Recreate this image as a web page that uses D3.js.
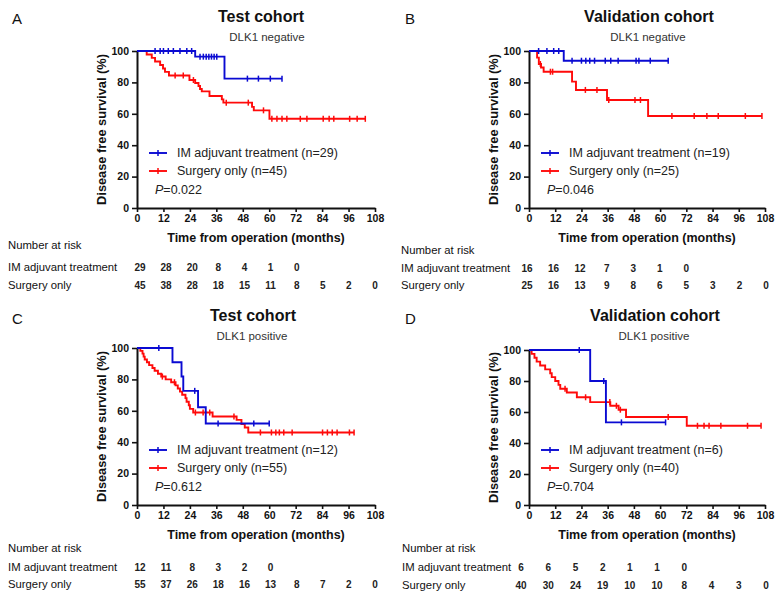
<!DOCTYPE html>
<html>
<head>
<meta charset="utf-8">
<script src="https://cdn.jsdelivr.net/npm/d3@7"></script>
<style>
  body { margin: 0; background: #fff; }
  svg { display: block; font-family: "Liberation Sans", Arial, sans-serif; }
</style>
</head>
<body>
<svg id="chart" width="784" height="600"></svg>
<script>
// Axis ticks and shared labels
var timeTicks = [0, 12, 24, 36, 48, 60, 72, 84, 96, 108];
var survTicks = [0, 20, 40, 60, 80, 100];
var panelLetters = ['A', 'B', 'C', 'D'];
var cohortTitles = ['Test cohort', 'Validation cohort', 'Test cohort', 'Validation cohort'];
var dlkTitles = ['DLK1 negative', 'DLK1 negative', 'DLK1 positive', 'DLK1 positive'];
var groupNames = ['IM adjuvant treatment', 'Surgery only'];
var imN = [29, 19, 12, 6];
var surgN = [45, 25, 55, 40];
var pValues = ['0.022', '0.046', '0.612', '0.704'];

// Kaplan-Meier steps: [month, survival % after the event], plus censored months
var imEventsA = [[26.4, 96.4], [39.7, 82.4]];
var imCensorA = [8.2, 10.5, 12, 14.2, 16.5, 19.5, 22.6, 24.8, 28.6, 30.1, 31.4, 32.6, 33.8, 35, 36.2, 50.1, 55.1, 60.5, 65.8];
var surgEventsA = [[4.4, 97.8], [6.7, 95.6], [8.2, 93.3], [10.5, 91.1], [11.8, 88.9], [12.7, 86.7], [14.5, 84.4], [23.8, 81.5], [26.4, 79.6], [27.9, 77.7], [28.6, 75.8], [29.4, 74.3], [32.9, 71.3], [38.5, 69.2], [39.2, 67.1], [52.2, 64.4], [53, 62.2], [60.1, 56.8]];
var surgCensorA = [17.3, 21, 25.6, 40.5, 50.5, 57.4, 61.2, 63.5, 65.8, 68, 74.1, 77.1, 84.5, 87.2, 89.3, 96.5, 99.9, 103.6];

var imEventsB = [[15.9, 93.8]];
var imCensorB = [4.4, 8.2, 11.3, 13.6, 19.7, 24, 26, 27.8, 30, 34.9, 37.4, 40.8, 49, 50.3, 55.5, 63.7];
var surgEventsB = [[3.7, 95.8], [4.5, 91.7], [5.5, 89.5], [6.7, 86.8], [19.7, 80.5], [21.5, 75.2], [35.7, 68.8], [54.5, 58.6]];
var surgCensorB = [5.2, 9.8, 10.8, 25.8, 31.1, 36.5, 48.5, 51, 65.4, 75.6, 81.4, 86.6, 99, 106.6];

var imEventsC = [[16.1, 90.9], [20.2, 81.8], [21, 72.7], [27.7, 62.3], [31.2, 51.9]];
var imCensorC = [9.9, 26.2, 36.8, 53, 60];
var surgEventsC = [[1.5, 98.2], [2.5, 96.4], [3, 94.5], [3.5, 92.7], [4.5, 90.9], [5.5, 89.1], [7, 87.3], [8, 85.5], [9.5, 83.6], [11, 81.8], [13, 80], [15.5, 78.2], [17.5, 76.2], [18.5, 74.2], [19.5, 72.2], [20.5, 70.2], [22, 68.1], [22.5, 65.8], [23.5, 63.5], [24, 61.2], [25.5, 58.9], [34.3, 56.4], [45.2, 54.2], [47.4, 51.6], [48.9, 49.4], [50.5, 46.2]];
var surgCensorC = [11.5, 17, 26.5, 30, 33, 44, 56, 61, 63, 64.6, 66.6, 70.4, 84.2, 86.4, 88.6, 90.8, 96.4, 98.5];

var imEventsD = [[28, 80], [35.2, 53.3]];
var imCensorD = [23, 34.2, 42.3, 62.5];
var surgEventsD = [[1.2, 97.5], [2.5, 95], [3.5, 92.5], [5.1, 90], [7.4, 87.5], [9.7, 85], [10.4, 82.5], [12, 80], [13.5, 77.5], [14.3, 75], [17.3, 72.6], [21.9, 69.5], [28, 66.4], [37.2, 64], [41, 61.5], [44.4, 56.8], [72.2, 51.1]];
var surgCensorD = [16.5, 25.9, 37, 40, 41.8, 63.7, 77.1, 80.1, 82.4, 87.8, 100, 106.2];

// Number at risk at each 12-month tick
var riskImA = [29, 28, 20, 8, 4, 1, 0];
var riskSurgA = [45, 38, 28, 18, 15, 11, 8, 5, 2, 0];
var riskImB = [16, 16, 12, 7, 3, 1, 0];
var riskSurgB = [25, 16, 13, 9, 8, 6, 5, 3, 2, 0];
var riskImC = [12, 11, 8, 3, 2, 0];
var riskSurgC = [55, 37, 26, 18, 16, 13, 8, 7, 2, 0];
var riskImD = [6, 6, 5, 2, 1, 1, 0];
var riskSurgD = [40, 30, 24, 19, 10, 10, 8, 4, 3, 0];

var BLUE = '#0a0ad2';
var RED = '#ff0a0a';

// Where each panel sits on the page
var LAYOUT = [
  { x0: 137, x1: 375, top: 51, bottom: 208, titleX: 261, subX: 267, titleY: 21.5, subY: 41, letterX: 12, letterY: 24, tab0: 140, tab1: 375, rowY: [245, 267, 285], labelX: 8 },
  { x0: 529, x1: 765, top: 51, bottom: 208, titleX: 649, subX: 648, titleY: 21.5, subY: 41, letterX: 405, letterY: 24, tab0: 527, tab1: 766, rowY: [250, 268, 285], labelX: 401 },
  { x0: 137, x1: 375, top: 348, bottom: 505, titleX: 253, subX: 252, titleY: 321, subY: 340, letterX: 12, letterY: 324, tab0: 140, tab1: 375, rowY: [548, 567, 584], labelX: 8 },
  { x0: 529, x1: 765, top: 350, bottom: 505, titleX: 655, subX: 654, titleY: 321, subY: 340, letterX: 405, letterY: 324, tab0: 521, tab1: 766, rowY: [548, 567, 585], labelX: 402 }
];

var curves = [
  [{ events: imEventsA, censor: imCensorA, color: BLUE }, { events: surgEventsA, censor: surgCensorA, color: RED }],
  [{ events: imEventsB, censor: imCensorB, color: BLUE }, { events: surgEventsB, censor: surgCensorB, color: RED }],
  [{ events: imEventsC, censor: imCensorC, color: BLUE }, { events: surgEventsC, censor: surgCensorC, color: RED }],
  [{ events: imEventsD, censor: imCensorD, color: BLUE }, { events: surgEventsD, censor: surgCensorD, color: RED }]
];
var riskRows = [[riskImA, riskSurgA], [riskImB, riskSurgB], [riskImC, riskSurgC], [riskImD, riskSurgD]];

var svg = d3.select('#chart');
var byTime = d3.bisector(function (d) { return d[0]; }).right;

// survival level at month t for a list of events
function survivalAt(events, t) {
  var i = byTime(events, t);
  return i === 0 ? 100 : events[i - 1][1];
}

LAYOUT.forEach(function (L, p) {
  var g = svg.append('g');
  var x = d3.scaleLinear().domain([0, 108]).range([L.x0, L.x1]);
  var y = d3.scaleLinear().domain([0, 100]).range([L.bottom, L.top]);

  // panel letter and titles
  g.append('text').attr('x', L.letterX).attr('y', L.letterY)
    .attr('font-size', 15).attr('fill', '#111').text(panelLetters[p]);
  g.append('text').attr('x', L.titleX).attr('y', L.titleY).attr('text-anchor', 'middle')
    .attr('font-size', 16).attr('font-weight', 'bold').attr('fill', '#111').text(cohortTitles[p]);
  g.append('text').attr('x', L.subX).attr('y', L.subY).attr('text-anchor', 'middle')
    .attr('font-size', 11.5).attr('fill', '#333').text(dlkTitles[p]);

  // axes
  var xAxis = g.append('g').attr('transform', 'translate(0,' + L.bottom + ')')
    .call(d3.axisBottom(x).tickValues(timeTicks).tickSize(4).tickPadding(3).tickSizeOuter(0));
  var yAxis = g.append('g').attr('transform', 'translate(' + L.x0 + ',0)')
    .call(d3.axisLeft(y).tickValues(survTicks).tickSize(5).tickPadding(3).tickSizeOuter(0));
  [xAxis, yAxis].forEach(function (a) {
    a.select('.domain').attr('stroke', '#111').attr('stroke-width', 2);
    a.selectAll('.tick line').attr('stroke', '#111').attr('stroke-width', 1.6);
    a.selectAll('.tick text').attr('fill', '#111').attr('font-size', 10.5)
      .attr('font-weight', 'bold').attr('font-family', '"Liberation Sans", Arial, sans-serif');
  });

  g.append('text')
    .attr('transform', 'translate(' + (L.x0 - 35) + ',' + ((L.top + L.bottom) / 2) + ') rotate(-90)')
    .attr('text-anchor', 'middle').attr('dy', '0.35em')
    .attr('font-size', 12.8).attr('font-weight', 'bold').attr('fill', '#111')
    .text('Disease free survival (%)');
  g.append('text').attr('x', (L.x0 + L.x1) / 2).attr('y', L.bottom + 30).attr('dy', '0.35em')
    .attr('text-anchor', 'middle').attr('font-size', 12.5).attr('font-weight', 'bold').attr('fill', '#111')
    .text('Time from operation (months)');

  // survival curves, surgery drawn first so the treatment line sits on top
  var line = d3.line().curve(d3.curveStepAfter)
    .x(function (d) { return x(d[0]); })
    .y(function (d) { return y(d[1]); });

  curves[p].slice().reverse().forEach(function (c) {
    var last = c.events[c.events.length - 1];
    var end = Math.max(last[0], d3.max(c.censor));
    var pts = [[0, 100]].concat(c.events, [[end, last[1]]]);
    g.append('path').datum(pts).attr('d', line)
      .attr('fill', 'none').attr('stroke', c.color).attr('stroke-width', 1.9);
    g.selectAll(null).data(c.censor).enter().append('line')
      .attr('x1', function (t) { return x(t); })
      .attr('x2', function (t) { return x(t); })
      .attr('y1', function (t) { return y(survivalAt(c.events, t)) - 3; })
      .attr('y2', function (t) { return y(survivalAt(c.events, t)) + 3; })
      .attr('stroke', c.color).attr('stroke-width', 1.5);
  });

  // legend
  var legendLabels = [groupNames[0] + ' (n=' + imN[p] + ')', groupNames[1] + ' (n=' + surgN[p] + ')'];
  [BLUE, RED].forEach(function (col, k) {
    var ly = L.bottom - 55 + k * 18;
    g.append('line').attr('x1', L.x0 + 12).attr('x2', L.x0 + 30).attr('y1', ly).attr('y2', ly)
      .attr('stroke', col).attr('stroke-width', 1.9);
    g.append('line').attr('x1', L.x0 + 21).attr('x2', L.x0 + 21).attr('y1', ly - 3).attr('y2', ly + 3)
      .attr('stroke', col).attr('stroke-width', 1.5);
    g.append('text').attr('x', L.x0 + 40).attr('y', ly).attr('dy', '0.35em')
      .attr('font-size', 12.5).attr('fill', '#222').text(legendLabels[k]);
  });
  var pt = g.append('text').attr('x', L.x0 + 18).attr('y', L.bottom - 18).attr('dy', '0.35em')
    .attr('font-size', 12.5).attr('fill', '#222');
  pt.append('tspan').attr('font-style', 'italic').text('P');
  pt.append('tspan').text('=' + pValues[p]);

  // number at risk table
  var tx = d3.scaleLinear().domain([0, 108]).range([L.tab0, L.tab1]);
  var labels = ['Number at risk'].concat(groupNames);
  labels.forEach(function (lab, k) {
    g.append('text').attr('x', L.labelX).attr('y', L.rowY[k]).attr('dy', '0.35em')
      .attr('font-size', 11.3).attr('fill', '#111').text(lab);
  });
  riskRows[p].forEach(function (row, k) {
    g.selectAll(null).data(row).enter().append('text')
      .attr('x', function (d, i) { return tx(timeTicks[i]); })
      .attr('y', L.rowY[k + 1]).attr('dy', '0.35em')
      .attr('text-anchor', 'middle').attr('font-size', 10).attr('font-weight', 'bold')
      .attr('fill', '#222').text(function (d) { return d; });
  });
});
</script>
</body>
</html>
